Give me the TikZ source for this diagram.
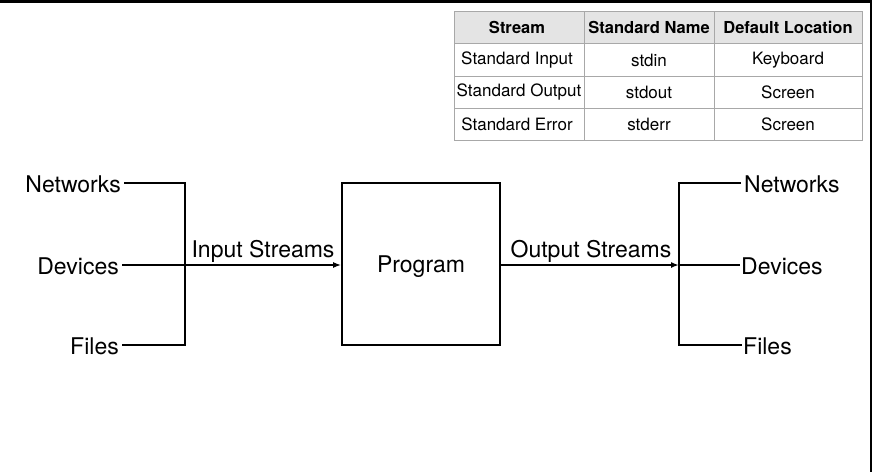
\documentclass[tikz,border=0pt]{standalone}
\usepackage{fontspec}
\setmainfont{TeX Gyre Heros}
\usetikzlibrary{arrows.meta}
\definecolor{gridgray}{HTML}{A8A8A8}
\definecolor{headfill}{HTML}{E4E4E4}
\begin{document}
\begin{tikzpicture}[x=1pt,y=-1pt,
  big/.style={font=\fontsize{23}{27}\selectfont, inner sep=3pt},
  cell/.style={font=\fontsize{17}{20}\selectfont, inner sep=0pt},
  headcell/.style={font=\bfseries\fontsize{16.5}{20}\selectfont, inner sep=0pt},
  wire/.style={line width=1.7pt},
  arr/.style={wire, -{Latex[length=8pt,width=6pt]}},
  grid/.style={draw=gridgray, line width=0.9pt}
]
\useasboundingbox (0,0) rectangle (872,472);
\fill[white] (0,0) rectangle (872,472);
% frame edges
\fill[black] (0,0) rectangle (872,2.5);
\fill[black] (869.5,0) rectangle (872,472);

% table
\fill[headfill] (454,11) rectangle (862,43);
\draw[grid] (454,11) rectangle (862,140);
\draw[grid] (454,43) -- (862,43);
\draw[grid] (454,76) -- (862,76);
\draw[grid] (454,108) -- (862,108);
\draw[grid] (584,11) -- (584,140);
\draw[grid] (714,11) -- (714,140);
\node[headcell] (h1) at (517,27) {Stream};
\node[headcell] (h2) at (649,27) {Standard Name};
\node[headcell] (h3) at (788,27) {Default Location};
\node[cell] (a1) at (517,60) {Standard Input};
\node[cell] (a2) at (649,60) {stdin};
\node[cell] (a3) at (788,60) {Keyboard};
\node[cell] (b1) at (519,92) {Standard Output};
\node[cell] (b2) at (649,92) {stdout};
\node[cell] (b3) at (788,92) {Screen};
\node[cell] (c1) at (517,124) {Standard Error};
\node[cell] (c2) at (649,124) {stderr};
\node[cell] (c3) at (788,124) {Screen};

% program box
\node[big, draw, line width=1.7pt, minimum width=158pt, minimum height=162pt, text depth=0pt] (prog) at (421,264) {Program};

% left side
\node[big, anchor=east] (lnw) at (124,184) {Networks};
\node[big, anchor=east] (ldv) at (122,266) {Devices};
\node[big, anchor=east] (lfl) at (122,346) {Files};
\coordinate (ltop) at (185,183);
\coordinate (lbot) at (185,345);
\draw[wire] (lnw.east |- ltop) -- (ltop) -- (lbot) -- (lfl.east |- lbot);
\coordinate (lmid) at (185,265);
\draw[arr] (ldv.east |- lmid) -- (prog.west |- lmid);
\node[big, anchor=base, inner sep=0pt] (inlab) at (263,257) {Input Streams};

% right side
\coordinate (rmid) at (679,265);
\coordinate (rtop) at (679,183);
\coordinate (rbot) at (679,345);
\node[big, anchor=west] (rnw) at (741,184) {Networks};
\node[big, anchor=west, inner sep=1pt] (rdv) at (740,266) {Devices};
\node[big, anchor=west, inner sep=1pt] (rfl) at (742,346) {Files};
\draw[arr] (prog.east |- rmid) -- (rmid);
\draw[wire] (rnw.west |- rtop) -- (rtop) -- (rbot) -- (rfl.west |- rbot);
\draw[wire] (rmid) -- (rdv.west |- rmid);
\node[big, anchor=base, inner sep=0pt] (outlab) at (591,257) {Output Streams};
\end{tikzpicture}
\end{document}
